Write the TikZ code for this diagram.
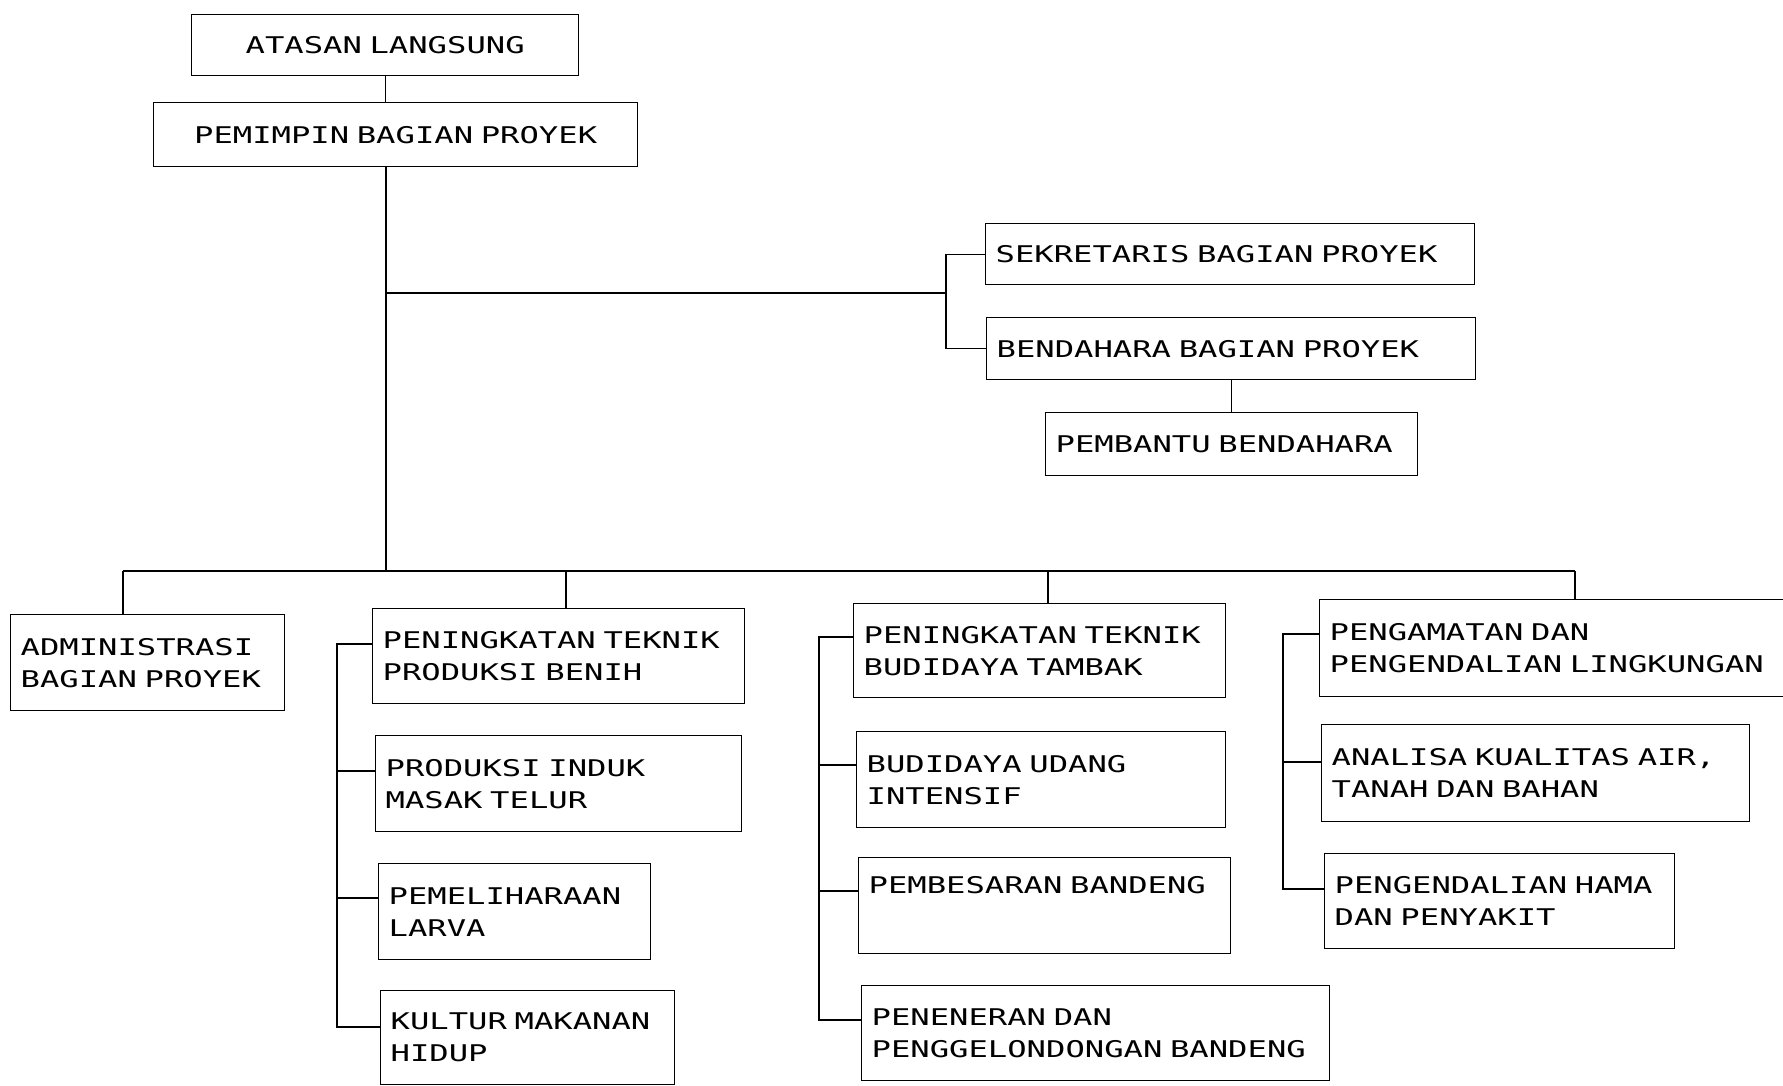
\documentclass[tikz,border=0pt]{standalone}
\usepackage{fontspec}
\newfontfamily\dotmatrix[FakeStretch=1.4]{DejaVu Sans Mono}
\newcommand\dotface{\dotmatrix\fontsize{23}{32}\selectfont}

\begin{document}
\begin{tikzpicture}[x=1pt,y=-1pt,line width=1.3pt,
  unit/.style 2 args={draw,rectangle,anchor=north west,align=left,
    inner xsep=10pt,inner ysep=0pt,text width=#1,minimum height=#2,
    font=\dotface}]

  \useasboundingbox (0,0) rectangle (1783,1086);

  \node[unit={367}{61},align=center] (1) at (191,14) {ATASAN LANGSUNG};
  \node[unit={464}{64},align=center] (2) at (153,102) {PEMIMPIN BAGIAN PROYEK};

  \node[unit={469}{61}] (21) at (985,223) {SEKRETARIS BAGIAN PROYEK};
  \node[unit={469}{62}] (22) at (986,317) {BENDAHARA BAGIAN PROYEK};
  \node[unit={352}{63}] (221) at (1045,412) {PEMBANTU BENDAHARA};

  \node[unit={254}{96}] (3) at (10,614) {ADMINISTRASI\\BAGIAN PROYEK};

  \node[unit={352}{95}] (41) at (372,608) {PENINGKATAN TEKNIK\\PRODUKSI BENIH};
  \node[unit={346}{96}] (42) at (375,735) {PRODUKSI INDUK\\MASAK TELUR};
  \node[unit={252}{96}] (43) at (378,863) {PEMELIHARAAN\\LARVA};
  \node[unit={274}{94}] (44) at (380,990) {KULTUR MAKANAN\\HIDUP};

  \node[unit={352}{94}] (51) at (853,603) {PENINGKATAN TEKNIK\\BUDIDAYA TAMBAK};
  \node[unit={349}{96}] (52) at (856,731) {BUDIDAYA UDANG\\INTENSIF};
  \node[unit={352}{96}] (53) at (858,857) {PEMBESARAN BANDENG\\\strut};
  \node[unit={448}{95}] (54) at (861,985) {PENENERAN DAN\\PENGGELONDONGAN BANDENG};

  \node[unit={448}{97}] (61) at (1319,599) {PENGAMATAN DAN\\PENGENDALIAN LINGKUNGAN};
  \node[unit={408}{97}] (62) at (1321,724) {ANALISA KUALITAS AIR,\\TANAH DAN BAHAN};
  \node[unit={330}{95}] (63) at (1324,853) {PENGENDALIAN HAMA\\DAN PENYAKIT};

  % trunk and buses
  \coordinate (bus) at (386,571);
  \coordinate (fork) at (946,293);
  \coordinate (b3) at (123,571);
  \coordinate (b4) at (566,571);
  \coordinate (b5) at (1048,571);
  \coordinate (b6) at (1575,571);

  \coordinate (k41) at (337,644);
  \coordinate (k42) at (337,771);
  \coordinate (k43) at (337,898);
  \coordinate (k44) at (337,1027);
  \coordinate (k51) at (819,637);
  \coordinate (k52) at (819,765);
  \coordinate (k53) at (819,891);
  \coordinate (k54) at (819,1020);
  \coordinate (k61) at (1283,634);
  \coordinate (k62) at (1283,762);
  \coordinate (k63) at (1283,889);

  \draw (1.south) -- (1.south |- 2.north);
  \draw (2.south -| bus) -- (bus);
  \draw (bus |- fork) -- (fork);
  \draw (21.west) -| (fork) |- (22.west);
  \draw (22.south) -- (22.south |- 221.north);

  \draw (b3) -- (b6);
  \path (b3) edge (b3 |- 3.north)
        (b4) edge (b4 |- 41.north)
        (b5) edge (b5 |- 51.north)
        (b6) edge (b6 |- 61.north);

  \draw (k41 -| 41.west) -- (k41) -- (k44) -- (k44 -| 44.west);
  \path (k42) edge (k42 -| 42.west)
        (k43) edge (k43 -| 43.west);

  \draw (k51 -| 51.west) -- (k51) -- (k54) -- (k54 -| 54.west);
  \path (k52) edge (k52 -| 52.west)
        (k53) edge (k53 -| 53.west);

  \draw (k61 -| 61.west) -- (k61) -- (k63) -- (k63 -| 63.west);
  \path (k62) edge (k62 -| 62.west);
\end{tikzpicture}
\end{document}
